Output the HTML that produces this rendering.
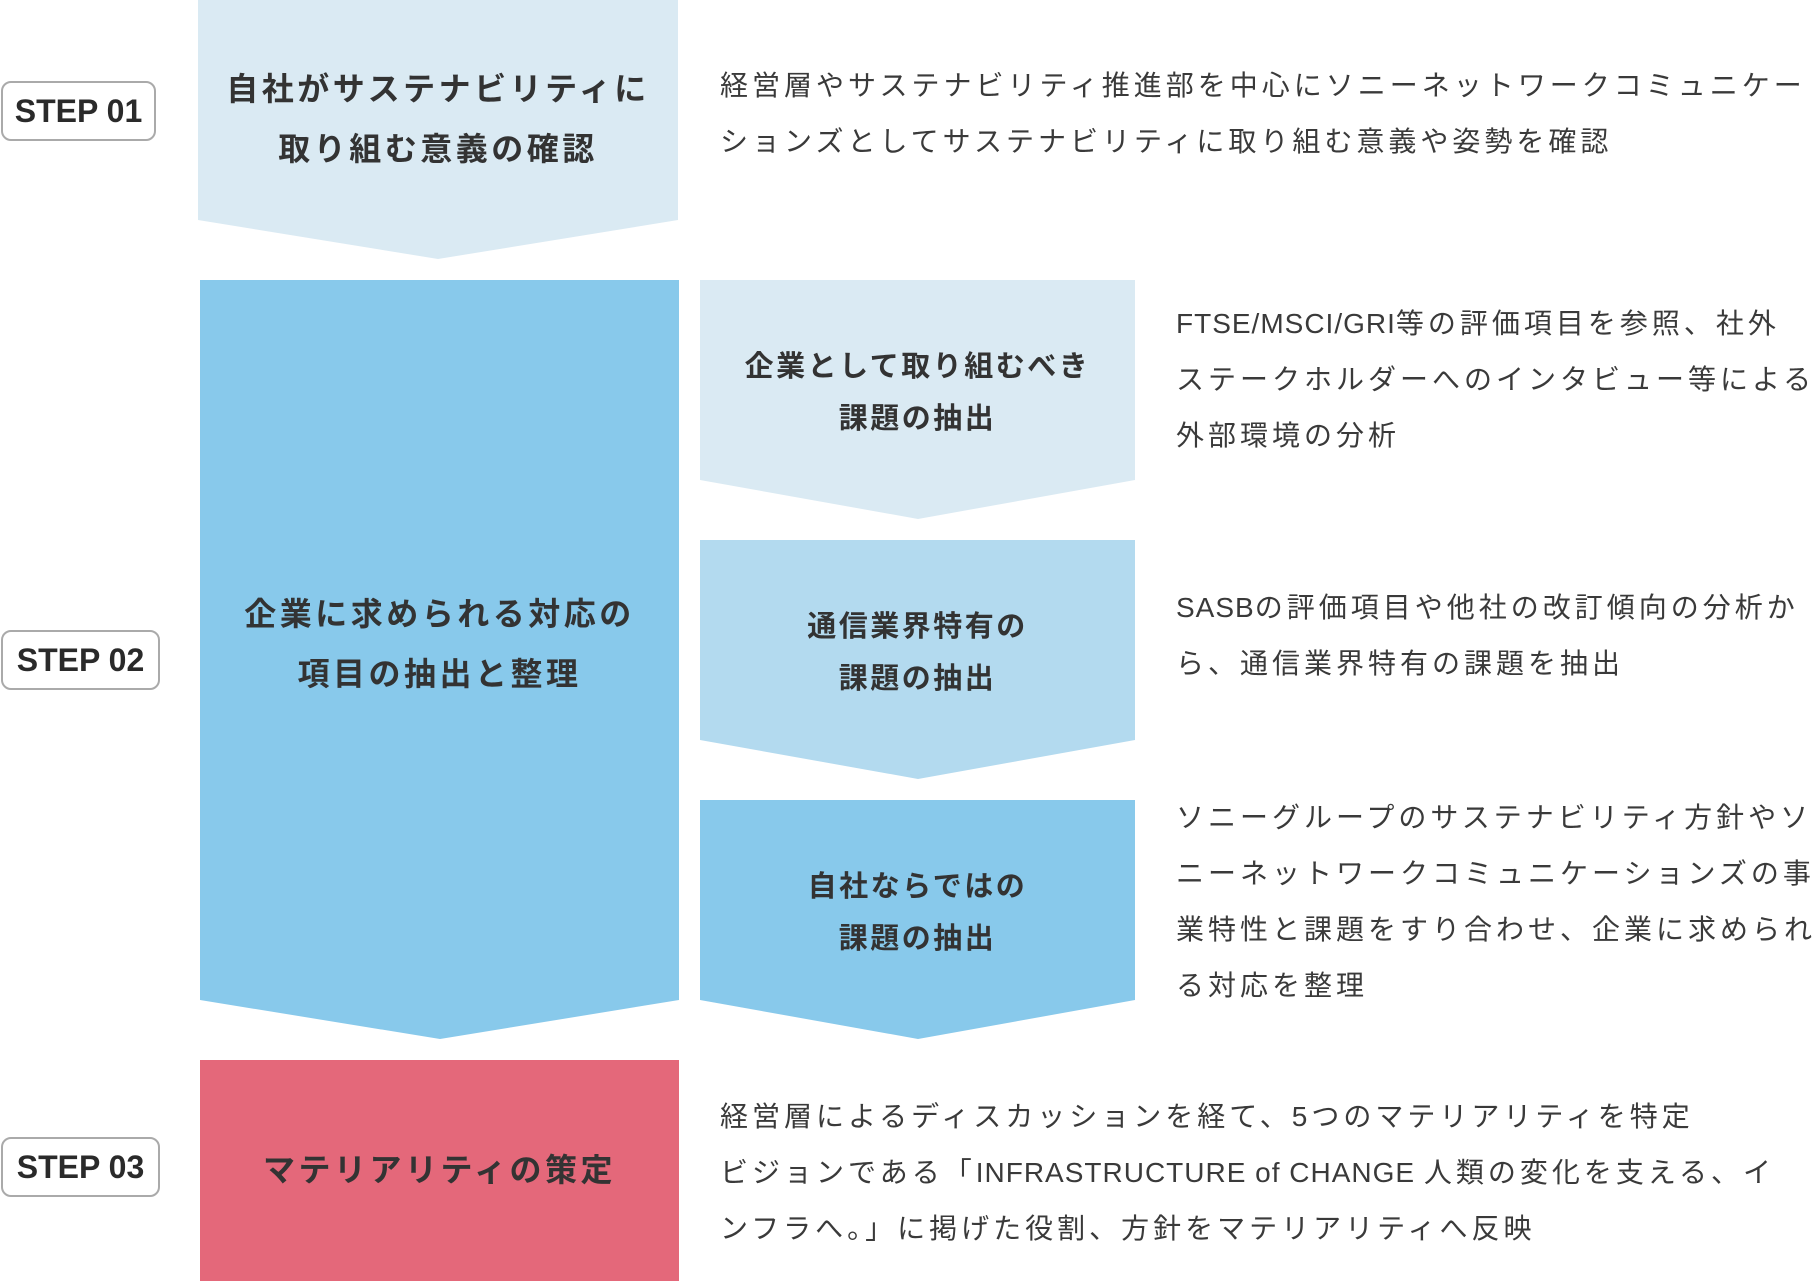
<!DOCTYPE html>
<html><head><meta charset="utf-8">
<style>
html,body{margin:0;padding:0;background:#fff;}
body{width:1820px;height:1281px;position:relative;overflow:hidden;font-family:"Liberation Sans","Noto Sans CJK JP",sans-serif;color:#333;}
.t{position:absolute;white-space:nowrap;}
.title{font-weight:bold;font-size:32px;letter-spacing:3.5px;text-align:center;line-height:60px;}
.sub{font-weight:bold;font-size:29px;letter-spacing:2.5px;text-align:center;line-height:52px;}
.desc{font-size:28px;letter-spacing:4px;line-height:56px;color:#3a3a3a;}
.l{letter-spacing:1px;}
.step{position:absolute;left:1px;width:155px;height:60px;border:2px solid #aaa;border-radius:10px;box-sizing:border-box;font-weight:bold;font-size:32px;text-align:center;line-height:56px;color:#2a2a2a;}
</style></head><body>
<svg width="1820" height="1281" style="position:absolute;left:0;top:0">
<polygon points="198,0 678,0 678,220 438,259 198,220" fill="#daeaf3"/>
<polygon points="200,280 679,280 679,1000 440,1039 200,1000" fill="#88c9eb"/>
<polygon points="700,280 1135,280 1135,480 918,519 700,480" fill="#daeaf3"/>
<polygon points="700,540 1135,540 1135,740 918,779 700,740" fill="#b3daef"/>
<polygon points="700,800 1135,800 1135,1000 918,1039 700,1000" fill="#88c9eb"/>
<rect x="200" y="1060" width="479" height="221" fill="#e4687a"/>
</svg>
<div class="step" style="top:81px">STEP 01</div>
<div class="step" style="top:630px;width:159px">STEP 02</div>
<div class="step" style="top:1137px;width:159px">STEP 03</div>

<div class="t title" style="left:198px;width:480px;top:59px">自社がサステナビリティに<br>取り組む意義の確認</div>
<div class="t title" style="left:200px;width:479px;top:584px">企業に求められる対応の<br>項目の抽出と整理</div>
<div class="t title" style="left:200px;width:479px;top:1140px">マテリアリティの策定</div>

<div class="t sub" style="left:700px;width:435px;top:341px">企業として取り組むべき<br>課題の抽出</div>
<div class="t sub" style="left:700px;width:435px;top:601px">通信業界特有の<br>課題の抽出</div>
<div class="t sub" style="left:700px;width:435px;top:861px">自社ならではの<br>課題の抽出</div>

<div class="t desc" style="left:720px;top:58px">経営層やサステナビリティ推進部を中心にソニーネットワークコミュニケー<br>ションズとしてサステナビリティに取り組む意義や姿勢を確認</div>
<div class="t desc" style="left:1176px;top:296px"><span class="l">FTSE/MSCI/GRI</span>等の評価項目を参照、社外<br>ステークホルダーへのインタビュー等による<br>外部環境の分析</div>
<div class="t desc" style="left:1176px;top:580px"><span class="l">SASB</span>の評価項目や他社の改訂傾向の分析か<br>ら、通信業界特有の課題を抽出</div>
<div class="t desc" style="left:1176px;top:790px">ソニーグループのサステナビリティ方針やソ<br>ニーネットワークコミュニケーションズの事<br>業特性と課題をすり合わせ、企業に求められ<br>る対応を整理</div>
<div class="t desc" style="left:720px;top:1089px">経営層によるディスカッションを経て、5つのマテリアリティを特定<br>ビジョンである「<span class="l">INFRASTRUCTURE of CHANGE </span>人類の変化を支える、イ<br>ンフラへ。」に掲げた役割、方針をマテリアリティへ反映</div>
</body></html>
